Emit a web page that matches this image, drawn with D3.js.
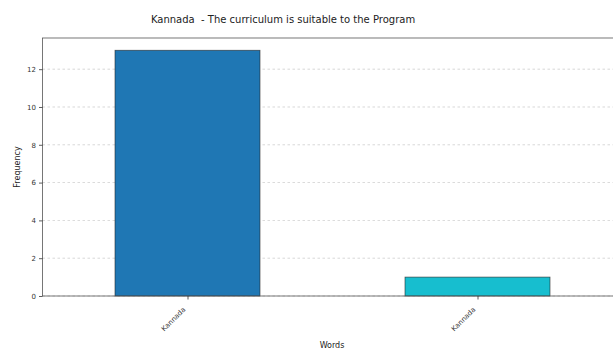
<!DOCTYPE html>
<html><head><meta charset="utf-8">
<script src="https://cdn.jsdelivr.net/npm/d3@7"></script>
<style>body{margin:0;background:#fff}text{font-family:"DejaVu Sans",sans-serif;white-space:pre}</style>
</head><body>
<svg id="c" width="613" height="354"></svg>
<script>
const categories = ["Kannada", "Kannada"];
const values = [13, 1];
const colors = ["#1f77b4", "#17becf"];
const yTicks = [0, 2, 4, 6, 8, 10, 12];
const title = "Kannada  - The curriculum is suitable to the Program";

const svg = d3.select("#c");
const L = 42.5, R = 622.5, T = 38, B = 296;
const x = d3.scaleLinear().domain([-0.5, 1.5]).range([L, R]);
const y = d3.scaleLinear().domain([0, 13.65]).range([B, T]);

// grid
svg.append("g").selectAll("line").data(yTicks).join("line")
  .attr("x1", L).attr("x2", R).attr("y1", d => y(d)).attr("y2", d => y(d))
  .attr("stroke", "#b0b0b0").attr("stroke-width", 0.7).attr("stroke-dasharray", "2.5,2.5").attr("opacity", 0.7);

// bars
svg.append("g").selectAll("rect").data(values).join("rect")
  .attr("x", (d, i) => x(i - 0.25)).attr("width", x(0.25) - x(-0.25))
  .attr("y", d => y(d)).attr("height", d => y(0) - y(d))
  .attr("fill", (d, i) => colors[i]).attr("stroke", "#222").attr("stroke-width", 0.8).attr("stroke-opacity", 0.7);

// frame
svg.append("rect").attr("x", L).attr("y", T).attr("width", R - L).attr("height", B - T)
  .attr("fill", "none").attr("stroke", "#555").attr("stroke-width", 0.8);

// y axis
const ya = svg.append("g").attr("transform", `translate(${L},0)`)
  .call(d3.axisLeft(y).tickValues(yTicks).tickSize(3.5).tickPadding(3));
ya.select(".domain").remove();
ya.selectAll("line").attr("stroke", "#333").attr("stroke-width", 0.8);
ya.selectAll("text").attr("font-size", 7).attr("fill", "#333").style("font-family", "DejaVu Sans");

// x axis
const xa = svg.append("g").attr("transform", `translate(0,${B})`)
  .call(d3.axisBottom(x).tickValues([0, 1]).tickFormat(i => categories[i]).tickSize(3.5).tickPadding(2));
xa.select(".domain").remove();
xa.selectAll("line").attr("stroke", "#333").attr("stroke-width", 0.8);
xa.selectAll("text").attr("font-size", 7).attr("fill", "#333").style("font-family", "DejaVu Sans")
  .attr("text-anchor", "end").attr("dy", null).attr("y", 0)
  .attr("transform", "translate(-2,14) rotate(-45)");

// labels
svg.append("text").attr("x", 283).attr("y", 23).attr("text-anchor", "middle")
  .attr("font-size", 10).attr("fill", "#222").text(title);
svg.append("text").attr("x", 332).attr("y", 348).attr("text-anchor", "middle")
  .attr("font-size", 8).attr("fill", "#222").text("Words");
svg.append("text").attr("transform", `translate(20,${(T + B) / 2}) rotate(-90)`).attr("text-anchor", "middle")
  .attr("font-size", 8).attr("fill", "#222").text("Frequency");
</script>
</body></html>
